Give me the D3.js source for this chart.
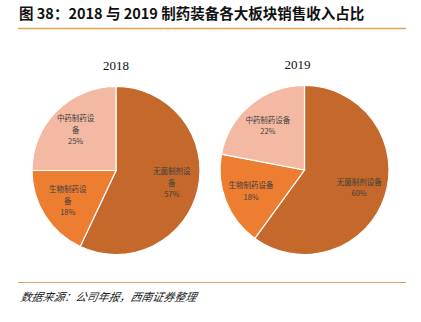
<!DOCTYPE html>
<html><head><meta charset="utf-8">
<script src="https://cdn.jsdelivr.net/npm/d3@7"></script>
<style>body{margin:0;background:#fff}</style>
</head><body>
<svg id="c" width="421" height="322"></svg>
<script>
const categories = ["无菌制剂设备", "生物制药设备", "中药制药设备"];
const years = ["2018", "2019"];
const values2018 = [57, 18, 25];
const values2019 = [60, 18, 22];
const labelLines2018 = [["无菌制剂设", "备", "57%"], ["生物制药设", "备", "18%"], ["中药制药设", "备", "25%"]];
const labelLines2019 = [["无菌制剂设备", "60%"], ["生物制药设备", "18%"], ["中药制药设备", "22%"]];
const colors = ["#C4682B", "#ED7D31", "#F4B9A2"];

const svg = d3.select("#c");
const cjk = "'Noto Sans CJK SC', 'Noto Sans', sans-serif";

svg.append("text").attr("x", 19).attr("y", 19)
  .attr("font-family", cjk).attr("font-weight", "bold").attr("font-size", 14.5).attr("fill", "#111")
  .text("图 38：2018 与 2019 制药装备各大板块销售收入占比");
svg.append("line").attr("x1", 18).attr("x2", 406).attr("y1", 28.5).attr("y2", 28.5)
  .attr("stroke", "#E3A257").attr("stroke-width", 1.5);
svg.append("line").attr("x1", 18).attr("x2", 406).attr("y1", 282.5).attr("y2", 282.5)
  .attr("stroke", "#D9A56A").attr("stroke-width", 1.2);
svg.append("text").attr("x", 20).attr("y", 301)
  .attr("font-family", cjk).attr("font-style", "italic").attr("font-size", 11).attr("fill", "#222")
  .attr("transform", "skewX(-12) translate(64,0)")
  .text("数据来源：公司年报，西南证券整理");

const pies = [
  {year: years[0], values: values2018, lines: labelLines2018, cx: 116, cy: 170.5, r: 84, ty: 72},
  {year: years[1], values: values2019, lines: labelLines2019, cx: 304.5, cy: 170, r: 84.5, ty: 71}
];
const pie = d3.pie().sort(null).value(d => d);
pies.forEach(p => {
  const g = svg.append("g").attr("transform", `translate(${p.cx},${p.cy})`);
  const arc = d3.arc().innerRadius(0).outerRadius(p.r);
  const lab = d3.arc().innerRadius(p.r * 0.68).outerRadius(p.r * 0.68);
  const arcs = pie(p.values);
  g.selectAll("path").data(arcs).join("path")
    .attr("d", arc).attr("fill", (d, i) => colors[i])
    .attr("stroke", "#fff").attr("stroke-width", 1.2);
  arcs.forEach((d, i) => {
    const [x, y] = lab.centroid(d);
    const lines = p.lines[i];
    const lh = 11.5;
    const t = g.append("text").attr("text-anchor", "middle")
      .attr("font-family", cjk).attr("font-size", 7.5).attr("fill", "#404040");
    lines.forEach((s, k) => {
      t.append("tspan").attr("x", x).attr("y", y + (k - (lines.length - 1) / 2) * lh + 2.7).text(s);
    });
  });
  svg.append("text").attr("x", p.cx - (p.year === "2019" ? 7 : 0)).attr("y", p.cy - p.r - 17)
    .attr("text-anchor", "middle").attr("font-family", "'Liberation Serif', 'DejaVu Serif', serif")
    .attr("font-size", 13).attr("fill", "#111").text(p.year);
});
</script>
</body></html>
